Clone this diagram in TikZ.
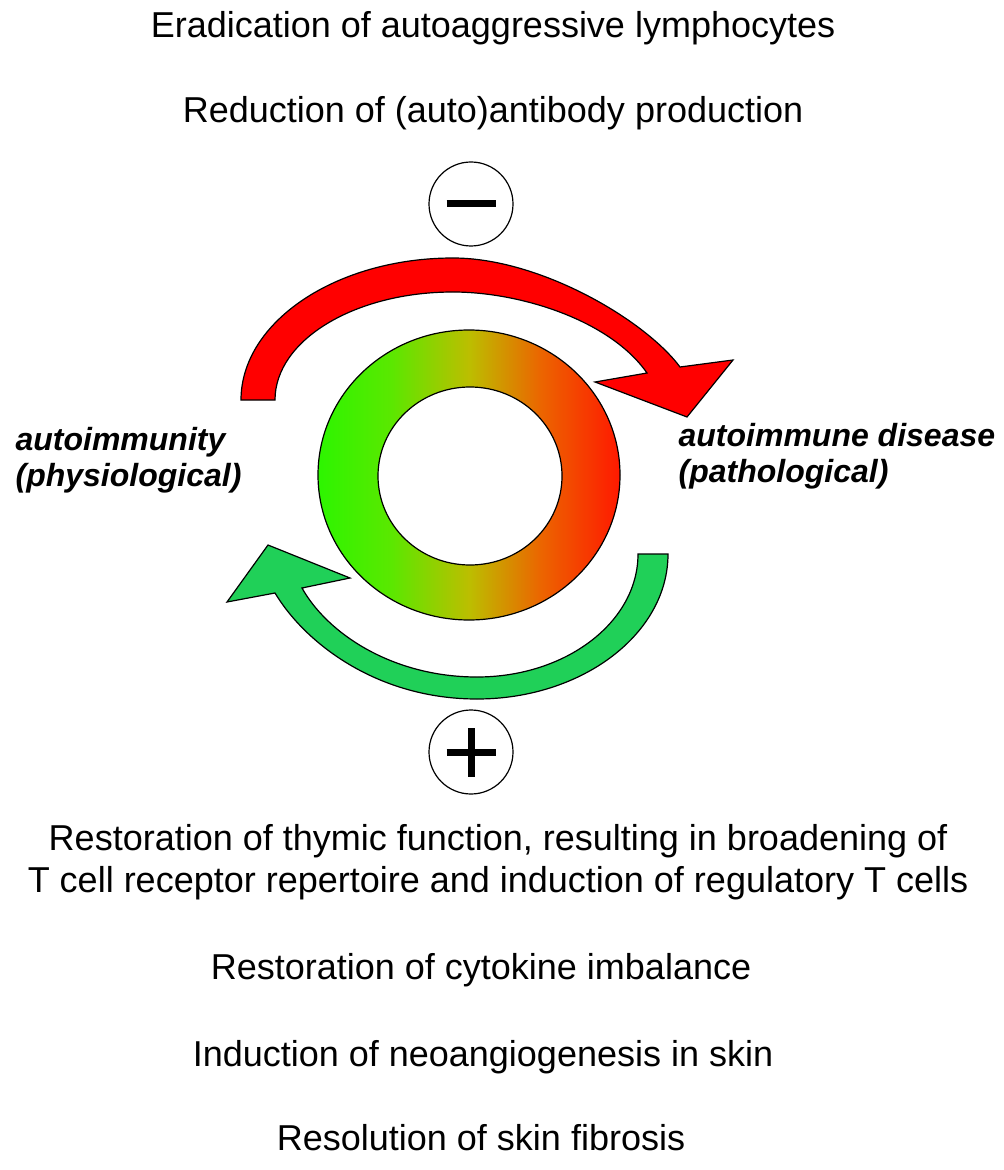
\documentclass[tikz,border=0pt]{standalone}
\usepackage{fontspec}
\setmainfont{Liberation Sans}
\usetikzlibrary{positioning}
\definecolor{ringgreen}{RGB}{45,245,0}
\definecolor{ringlime}{RGB}{90,232,0}
\definecolor{ringolive}{RGB}{188,190,0}
\definecolor{ringorange}{RGB}{236,100,0}
\definecolor{ringred}{RGB}{255,25,0}
\definecolor{loopgreen}{RGB}{32,208,88}
\pgfdeclarehorizontalshading{ringfade}{100bp}{color(0bp)=(ringgreen); color(25bp)=(ringgreen); color(37bp)=(ringlime); color(50bp)=(ringolive); color(62bp)=(ringorange); color(75bp)=(ringred); color(100bp)=(ringred)}
\tikzset{
every picture/.style={
line width=0.6pt
}}
\tikzset{
effect/.style={font=\fontsize{18}{21}\selectfont, inner sep=0pt, anchor=base, align=center},
stage/.style={font=\fontsize{16}{18}\selectfont\bfseries\itshape, inner sep=0pt, anchor=base west, align=left},
sign/.style={circle, draw, minimum size=42pt, inner sep=0pt},
bar/.style={line width=3.5pt}
}

\begin{document}
\begin{tikzpicture}[x=0.5pt, y=-0.5pt]
\useasboundingbox (0,0) rectangle (1004,1170);

\node[effect] (erad) at (493,38) {Eradication of autoaggressive lymphocytes};
\node[effect] (reduc) at (493,123) {Reduction of (auto)antibody production};
\node[effect] (thymus) at (498,892) {Restoration of thymic function, resulting in broadening of\\T cell receptor repertoire and induction of regulatory T cells};
\node[effect] (cyto) at (481,979) {Restoration of cytokine imbalance};
\node[effect] (neo) at (483,1066) {Induction of neoangiogenesis in skin};
\node[effect] (fibro) at (481,1150) {Resolution of skin fibrosis};

\node[stage] (physio) at (15,486) {autoimmunity\\(physiological)};
\node[stage] (patho) at (678,482) {autoimmune disease\\(pathological)};

\shade[even odd rule, shading=ringfade]
  (469,475) ellipse [x radius=151, y radius=145] (470,476) ellipse [x radius=92, y radius=89];
\draw (469,475) ellipse [x radius=151, y radius=145] (470,476) ellipse [x radius=92, y radius=89];

\draw[fill=red] (241,400) .. controls (241,322) and (336,258) .. (453,258)
  .. controls (540,258) and (645,320) .. (680,367)
  -- (733,360) -- (687,417) -- (595,382) -- (647,373)
  .. controls (610,320) and (520,292) .. (453,292)
  .. controls (355,292) and (275,340) .. (275,400) -- cycle;

\draw[fill=loopgreen] (668,554) .. controls (668,634) and (582,699) .. (477,699)
  .. controls (377,699) and (305,643) .. (275,593)
  -- (227,602) -- (268,545) -- (350,578) -- (302,588)
  .. controls (327,633) and (392,677) .. (477,677)
  .. controls (566,677) and (638,622) .. (638,554) -- cycle;

\node[sign] (minus) at (471,204) {};
\draw[bar] ([xshift=-12.25pt]minus.center) -- ([xshift=12.25pt]minus.center);
\node[sign] (plus) at (471,752) {};
\draw[bar] ([xshift=-12.25pt]plus.center) -- ([xshift=12.25pt]plus.center)
  ([yshift=-12.25pt]plus.center) -- ([yshift=12.25pt]plus.center);
\end{tikzpicture}
\end{document}
